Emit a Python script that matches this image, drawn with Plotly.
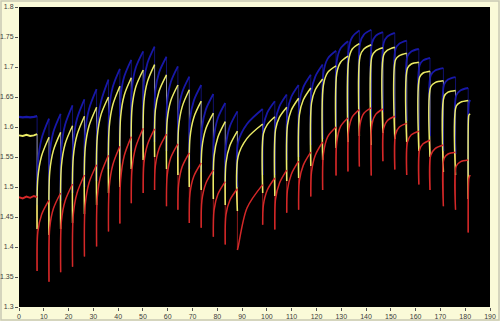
import plotly.graph_objects as go

# ---------------- data ----------------
drops = [7.3, 12.1, 16.8, 21.6, 26.4, 31.3, 36.1, 40.7, 45.3, 50.1, 54.7, 59.5,
         64.1, 68.7, 73.5, 78.4, 83.2, 88.1, 98.3, 103.2, 108.0, 112.8, 117.7, 122.5,
         127.9, 132.7, 137.3, 142.1, 146.8, 151.6, 156.4, 161.3, 165.8, 171.2, 176.1, 181.2]
end_x = 182.0

flat_x = [0, 1.5, 3, 4.5, 6, 7.3]
blue_flat = [1.617, 1.616, 1.617, 1.616, 1.617, 1.618]
yellow_flat = [1.586, 1.585, 1.587, 1.585, 1.586, 1.588]
red_flat = [1.483, 1.481, 1.484, 1.482, 1.485, 1.483]

blue_min = [1.470, 1.478, 1.477, 1.490, 1.500, 1.510, 1.530, 1.540, 1.560, 1.570, 1.575, 1.560,
            1.550, 1.530, 1.525, 1.520, 1.505, 1.500, 1.520, 1.520, 1.545, 1.550, 1.570, 1.580,
            1.600, 1.610, 1.620, 1.610, 1.625, 1.615, 1.610, 1.595, 1.585, 1.560, 1.555, 1.520]
blue_knee = [1.540, 1.555, 1.565, 1.575, 1.590, 1.600, 1.630, 1.650, 1.665, 1.675, 1.660, 1.643,
             1.627, 1.613, 1.598, 1.584, 1.570, 1.575, 1.600, 1.610, 1.625, 1.640, 1.660, 1.690,
             1.710, 1.730, 1.740, 1.740, 1.740, 1.730, 1.718, 1.703, 1.686, 1.671, 1.653, 1.630]
blue_mid = [1.581, 1.592, 1.604, 1.614, 1.630, 1.643, 1.667, 1.684, 1.699, 1.707, 1.691, 1.675,
            1.658, 1.644, 1.629, 1.615, 1.601, 1.605, 1.624, 1.634, 1.650, 1.666, 1.684, 1.714,
            1.731, 1.750, 1.754, 1.752, 1.751, 1.739, 1.726, 1.711, 1.694, 1.679, 1.661, 1.640]
blue_peak = [1.614, 1.622, 1.636, 1.646, 1.663, 1.679, 1.697, 1.712, 1.726, 1.734, 1.717, 1.701,
             1.684, 1.670, 1.655, 1.640, 1.626, 1.630, 1.643, 1.654, 1.670, 1.687, 1.704, 1.727,
             1.743, 1.761, 1.762, 1.758, 1.757, 1.744, 1.730, 1.715, 1.698, 1.683, 1.665, 1.645]

yellow_min = [1.430, 1.420, 1.430, 1.440, 1.455, 1.470, 1.490, 1.500, 1.530, 1.545, 1.550, 1.530,
              1.520, 1.500, 1.495, 1.480, 1.470, 1.460, 1.490, 1.485, 1.510, 1.515, 1.535, 1.545,
              1.565, 1.575, 1.585, 1.570, 1.590, 1.580, 1.575, 1.560, 1.550, 1.525, 1.520, 1.480]
yellow_knee = [1.515, 1.525, 1.535, 1.550, 1.565, 1.585, 1.600, 1.617, 1.632, 1.642, 1.628, 1.612,
               1.600, 1.583, 1.565, 1.552, 1.540, 1.551, 1.589, 1.596, 1.603, 1.620, 1.640, 1.670,
               1.690, 1.712, 1.718, 1.718, 1.720, 1.712, 1.698, 1.683, 1.667, 1.651, 1.635, 1.615]
yellow_mid = [1.552, 1.561, 1.572, 1.587, 1.602, 1.621, 1.637, 1.653, 1.667, 1.676, 1.660, 1.644,
              1.634, 1.616, 1.597, 1.583, 1.569, 1.581, 1.604, 1.616, 1.628, 1.645, 1.662, 1.691,
              1.708, 1.730, 1.730, 1.727, 1.728, 1.719, 1.705, 1.690, 1.674, 1.658, 1.641, 1.620]
yellow_peak = [1.583, 1.591, 1.602, 1.618, 1.633, 1.650, 1.668, 1.682, 1.695, 1.704, 1.687, 1.670,
               1.662, 1.643, 1.623, 1.609, 1.593, 1.605, 1.617, 1.633, 1.648, 1.665, 1.680, 1.702,
               1.718, 1.739, 1.737, 1.732, 1.733, 1.723, 1.708, 1.693, 1.677, 1.661, 1.644, 1.622]

red_min = [1.360, 1.342, 1.358, 1.367, 1.384, 1.401, 1.426, 1.439, 1.473, 1.490, 1.495, 1.468,
           1.462, 1.440, 1.432, 1.417, 1.404, 1.395, 1.437, 1.429, 1.457, 1.462, 1.484, 1.495,
           1.519, 1.526, 1.534, 1.519, 1.543, 1.529, 1.520, 1.504, 1.495, 1.468, 1.462, 1.424]
red_knee = [1.425, 1.432, 1.443, 1.454, 1.470, 1.484, 1.500, 1.512, 1.530, 1.540, 1.535, 1.520,
            1.505, 1.490, 1.478, 1.462, 1.454, 1.400, 1.470, 1.480, 1.495, 1.510, 1.525, 1.555,
            1.575, 1.595, 1.605, 1.605, 1.598, 1.588, 1.575, 1.562, 1.553, 1.548, 1.535, 1.505]
red_mid = [1.454, 1.464, 1.477, 1.490, 1.507, 1.522, 1.537, 1.552, 1.567, 1.571, 1.564, 1.549,
           1.534, 1.518, 1.506, 1.488, 1.478, 1.465, 1.495, 1.506, 1.521, 1.536, 1.553, 1.584,
           1.601, 1.617, 1.623, 1.621, 1.611, 1.600, 1.587, 1.572, 1.564, 1.555, 1.542, 1.515]
red_peak = [1.478, 1.490, 1.505, 1.520, 1.537, 1.553, 1.568, 1.584, 1.598, 1.597, 1.588, 1.572,
            1.557, 1.540, 1.528, 1.509, 1.497, 1.504, 1.515, 1.528, 1.543, 1.558, 1.575, 1.600,
            1.615, 1.629, 1.632, 1.630, 1.618, 1.606, 1.593, 1.578, 1.570, 1.558, 1.545, 1.520]

x_ticks = list(range(0, 200, 10))
y_ticks = [1.3, 1.35, 1.4, 1.45, 1.5, 1.55, 1.6, 1.65, 1.7, 1.75, 1.8]
y_tick_text = ["1.3", "1.35", "1.4", "1.45", "1.5", "1.55", "1.6", "1.65", "1.7", "1.75", "1.8"]

# ---------------- figure ----------------
BLUE = "#1818a8"
YELLOW = "#ecec66"
RED = "#d42828"
SPIKE = {BLUE: "#1a1a9a", YELLOW: "#bdbda6", RED: "#c42626"}


def build(mins, knees, mids, peaks, flat):
    bounds = drops + [end_x]
    ax, ay, sx, sy = [], [], [], []
    prev = flat[-1]
    for k in range(len(drops)):
        x0, x1 = bounds[k], bounds[k + 1]
        sx += [x0, x0, None]
        sy += [prev, mins[k], None]
        off = min(0.3, 0.15 * (x1 - x0))
        ax += [x0, x0 + off, x0 + 0.38 * (x1 - x0), x1, None]
        ay += [mins[k], knees[k], mids[k], peaks[k], None]
        prev = peaks[k]
    return ax, ay, sx, sy


fig = go.Figure()
series = [
    (BLUE, blue_min, blue_knee, blue_mid, blue_peak, blue_flat, 1.8),
    (YELLOW, yellow_min, yellow_knee, yellow_mid, yellow_peak, yellow_flat, 1.5),
    (RED, red_min, red_knee, red_mid, red_peak, red_flat, 1.5),
]
arcs = []
for col, mn, kn, md, pk, fl, w in series:
    ax, ay, sx, sy = build(mn, kn, md, pk, fl)
    fig.add_trace(go.Scatter(x=sx, y=sy, mode="lines", line=dict(color=SPIKE[col], width=0.9),
                             opacity=0.8, hoverinfo="skip", showlegend=False))
    arcs.append((col, ax, ay, fl, w))
for col, ax, ay, fl, w in arcs:
    fig.add_trace(go.Scatter(x=flat_x, y=fl, mode="lines", line=dict(color=col, width=w + 0.4),
                             showlegend=False))
    fig.add_trace(go.Scatter(x=ax, y=ay, mode="lines",
                             line=dict(color=col, width=w, shape="spline", smoothing=0.9),
                             connectgaps=False, showlegend=False))

W, H = 500, 321
ML, MR, MT, MB = 19, 10, 7, 14
pw, ph = W - ML - MR, H - MT - MB

fig.update_layout(
    width=W, height=H,
    margin=dict(l=ML, r=MR, t=MT, b=MB, pad=0),
    paper_bgcolor="#fafad8",
    plot_bgcolor="#000000",
    font=dict(family="Liberation Sans, Arial, sans-serif", size=7, color="#3a3a3a"),
    showlegend=False,
    xaxis=dict(range=[0, 190], tickvals=x_ticks, ticks="outside", ticklen=3, tickwidth=1,
               tickcolor="#555555", showgrid=False, zeroline=False, showline=False,
               automargin=False, tickfont=dict(size=7, color="#3a3a3a")),
    yaxis=dict(range=[1.3, 1.8], tickvals=y_ticks, ticktext=y_tick_text, ticks="outside",
               ticklen=3, tickwidth=1, tickcolor="#555555", showgrid=False, zeroline=False,
               showline=False, automargin=False, tickfont=dict(size=7, color="#3a3a3a")),
    shapes=[dict(type="rect", xref="paper", yref="paper",
                 x0=-(ML - 1) / pw, x1=1 + (MR - 1) / pw,
                 y0=-(MB - 1) / ph, y1=1 + (MT - 1) / ph,
                 line=dict(color="#c9c9b4", width=1.5), fillcolor="rgba(0,0,0,0)",
                 layer="below")],
)

fig.write_html("out.html")
